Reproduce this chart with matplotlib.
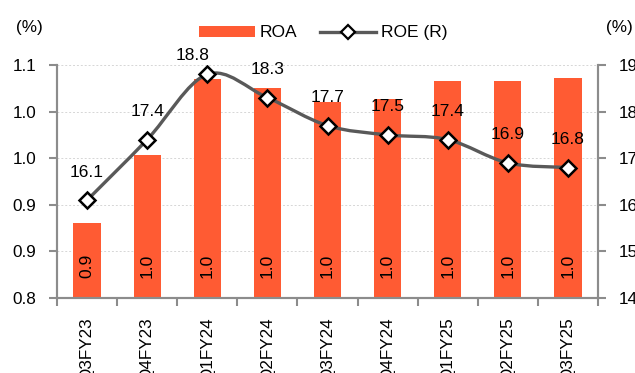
import numpy as np
import matplotlib.pyplot as plt
from matplotlib.path import Path
from matplotlib.patches import PathPatch
from matplotlib.lines import Line2D
from matplotlib.patches import Patch

plt.rcParams['font.family'] = ['Liberation Sans', 'DejaVu Sans']

quarters = ["Q3FY23", "Q4FY23", "Q1FY24", "Q2FY24", "Q3FY24",
            "Q4FY24", "Q1FY25", "Q2FY25", "Q3FY25"]
roa = [0.88, 0.953, 1.035, 1.025, 1.010, 1.014, 1.033, 1.033, 1.036]
roe = [16.1, 17.4, 18.8, 18.3, 17.7, 17.5, 17.4, 16.9, 16.8]

left_ticks = [0.80, 0.85, 0.90, 0.95, 1.00, 1.05]
left_tick_labels = ["0.8", "0.9", "0.9", "1.0", "1.0", "1.1"]
right_ticks = [14, 15, 16, 17, 18, 19]

bar_color = "#FF5B33"
line_color = "#595959"
axis_color = "#8C8C8C"

fig = plt.figure(figsize=(6.35, 3.73), dpi=100)
ax = fig.add_axes([0.0898, 0.201, 0.8519, 0.6247])
ax2 = ax.twinx()

x = np.arange(len(quarters))
ax.bar(x, roa, width=0.455, color=bar_color, zorder=2)
ax.set_xlim(-0.5, len(quarters) - 0.5)
ax.set_ylim(0.80, 1.05)
ax.set_yticks(left_ticks)
ax.set_yticklabels(left_tick_labels)
ax.yaxis.grid(True, color="#D6D6D6", linestyle=(0, (2, 2)), linewidth=0.7, zorder=0)
ax.set_axisbelow(True)

# ROA values written inside the bars, rotated
for xi, v in zip(x, roa):
    ax.text(xi, 0.835, f"{v:.1f}", rotation=90, ha="center", va="center",
            fontsize=12.5, color="black", zorder=3)

# category labels centred, tick marks on the boundaries
ax.set_xticks(x)
ax.set_xticklabels(quarters, rotation=90, va="top", ha="center", fontsize=12.3)
ax.set_xticks(np.arange(len(quarters) + 1) - 0.5, minor=True)
ax.tick_params(axis="x", which="major", length=0, pad=14)
ax.tick_params(axis="x", which="minor", length=6, width=1.5, color=axis_color)
ax.tick_params(axis="y", length=6, width=1.5, color=axis_color, pad=9, labelsize=12.3)

ax2.set_ylim(14, 19)
ax2.set_yticks(right_ticks)
ax2.tick_params(axis="y", length=6, width=1.5, color=axis_color, pad=9, labelsize=12.3)

for a in (ax, ax2):
    a.spines["top"].set_visible(False)
    for s in ("left", "right", "bottom"):
        a.spines[s].set_color(axis_color)
        a.spines[s].set_linewidth(1.5)

# smoothed ROE line as cubic bezier segments
pts = np.column_stack([x, roe]).astype(float)
verts = [pts[0]]
codes = [Path.MOVETO]
n = len(pts)
for i in range(n - 1):
    p0 = pts[i - 1] if i > 0 else pts[i]
    p1 = pts[i]
    p2 = pts[i + 1]
    p3 = pts[i + 2] if i + 2 < n else pts[i + 1]
    c1 = p1 + (p2 - p0) / 6.0
    c2 = p2 - (p3 - p1) / 6.0
    verts += [c1, c2, p2]
    codes += [Path.CURVE4] * 3
ax2.add_patch(PathPatch(Path(verts, codes), facecolor="none",
                        edgecolor=line_color, linewidth=2.4, zorder=3))
ax2.plot(x, roe, linestyle="none", marker="D", markersize=8.5,
         markerfacecolor="white", markeredgecolor="black",
         markeredgewidth=1.8, zorder=4)

for i, (xi, v) in enumerate(zip(x, roe)):
    off = (0, 28)
    if i == 2:
        off = (-15, 19)
    ax2.annotate(f"{v:.1f}", (xi, v), xytext=off, textcoords="offset pixels",
                 ha="center", va="center", fontsize=12.5)

fig.text(0.047, 0.927, "(%)", ha="center", va="center", fontsize=12.3)
fig.text(0.976, 0.927, "(%)", ha="center", va="center", fontsize=12.3)

handles = [Patch(facecolor=bar_color, edgecolor="none"),
           Line2D([], [], color=line_color, linewidth=2.4, marker="D",
                  markersize=7, markerfacecolor="white", markeredgecolor="black",
                  markeredgewidth=1.6)]
fig.legend(handles, ["ROA", "ROE (R)"], loc="center", ncol=2,
           bbox_to_anchor=(0.509, 0.912), frameon=False, fontsize=12.5,
           handlelength=3.2, handleheight=0.6, handletextpad=0.3,
           columnspacing=1.3)

fig.savefig("out.png", dpi=100)
